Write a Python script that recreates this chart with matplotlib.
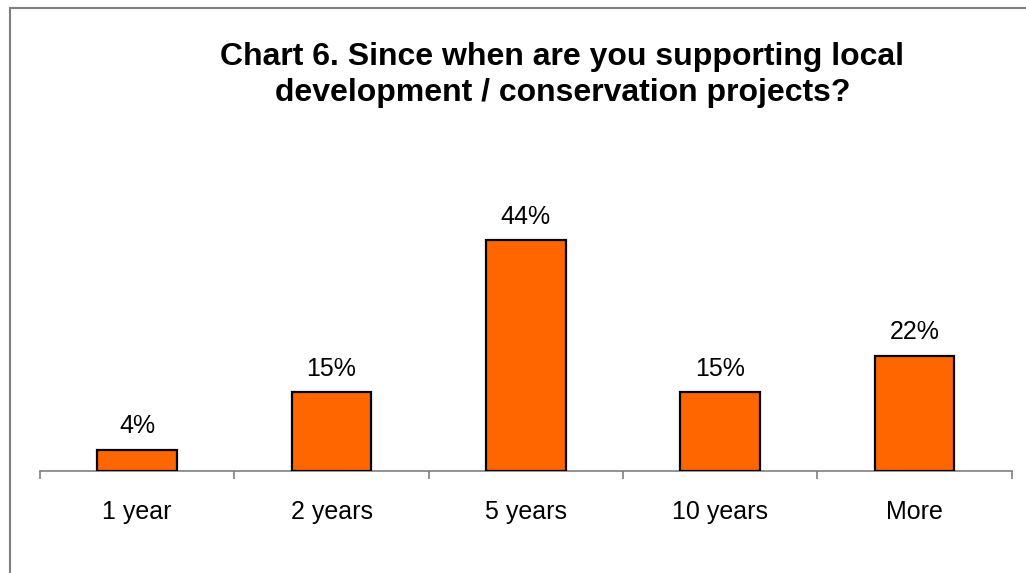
import matplotlib
matplotlib.use("Agg")
import matplotlib.pyplot as plt
from matplotlib.patches import Rectangle

categories = ["1 year", "2 years", "5 years", "10 years", "More"]
values = [4, 15, 44, 15, 22]
value_labels = ["4%", "15%", "44%", "15%", "22%"]
title_lines = ["Chart 6. Since when are you supporting local",
               "development / conservation projects?"]

W, H = 1026, 573
plt.rcParams['font.family'] = ['Liberation Sans', 'DejaVu Sans']
fig = plt.figure(figsize=(W / 100, H / 100), dpi=100)
fig.patch.set_facecolor('white')

# outer border (cut off at right/bottom)
fig.patches.append(Rectangle((10 / W, -0.2), 2.0, (1 - 8.3 / H) + 0.2,
                             transform=fig.transFigure, fill=False,
                             edgecolor='#808080', lw=1.5))

ymax = 50
px_per = 5.24
ax_left, ax_right, ax_bottom = 40, 1011.7, 471
ax_top = ax_bottom - ymax * px_per
ax = fig.add_axes([ax_left / W, 1 - ax_bottom / H,
                   (ax_right - ax_left) / W, (ax_bottom - ax_top) / H])
ax.set_facecolor('none')

x = range(len(categories))
ax.bar(x, values, width=0.41, color='#FF6600', edgecolor='black', linewidth=1.6, zorder=3)
for xi, v, lab in zip(x, values, value_labels):
    ax.annotate(lab, (xi, v), xytext=(0, 12), textcoords='offset points',
                ha='center', va='baseline', fontsize=18)

ax.set_xlim(-0.5, len(categories) - 0.5)
ax.set_ylim(0, ymax)
for s in ['top', 'right', 'left']:
    ax.spines[s].set_visible(False)
ax.spines['bottom'].set_color('#808080')
ax.spines['bottom'].set_linewidth(1.2)
ax.set_yticks([])
ax.set_xticks([i - 0.5 for i in range(len(categories) + 1)])
ax.set_xticklabels([])
ax.tick_params(axis='x', which='major', direction='out', length=6,
               color='#808080', width=1.2)
ax.set_xticks(list(x), minor=True)
ax.set_xticklabels(categories, minor=True, fontsize=18)
ax.tick_params(axis='x', which='minor', length=0, pad=21)

fig.text(562 / W, 1 - 65 / H, title_lines[0], ha='center', va='baseline',
         fontsize=23, fontweight='bold')
fig.text(563 / W, 1 - 101.5 / H, title_lines[1], ha='center', va='baseline',
         fontsize=23, fontweight='bold')

fig.savefig('out.png', dpi=100)
